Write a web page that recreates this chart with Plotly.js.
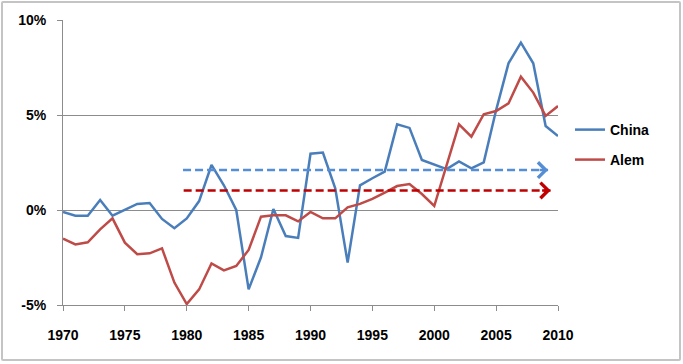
<!DOCTYPE html>
<html>
<head>
<meta charset="utf-8">
<script src="https://cdn.plot.ly/plotly-3.0.1.min.js"></script>
<style>
  html, body { margin: 0; padding: 0; background: #ffffff; }
  #chart { position: absolute; left: 0; top: 0; width: 683px; height: 364px; }
  #frame { position: absolute; left: 1px; top: 1px; width: 680px; height: 360px;
           border: 2px solid #C4C4C4; box-sizing: border-box; border-radius: 2px; pointer-events: none; }
</style>
</head>
<body>
<div id="chart"></div>
<div id="frame"></div>
<script>
// ---- data ----
const years = [1970,1971,1972,1973,1974,1975,1976,1977,1978,1979,
               1980,1981,1982,1983,1984,1985,1986,1987,1988,1989,
               1990,1991,1992,1993,1994,1995,1996,1997,1998,1999,
               2000,2001,2002,2003,2004,2005,2006,2007,2008,2009,2010];
const china = [-0.1,-0.3,-0.3,0.53,-0.3,0.0,0.32,0.37,-0.47,-0.96,
               -0.44,0.47,2.37,1.3,0.0,-4.18,-2.49,0.05,-1.37,-1.47,
               2.96,3.02,1.14,-2.77,1.3,1.67,2.02,4.51,4.32,2.63,
               2.37,2.15,2.56,2.19,2.51,5.26,7.72,8.81,7.72,4.42,3.89];
const alem  = [-1.51,-1.81,-1.70,-1.02,-0.44,-1.72,-2.33,-2.28,-2.02,-3.82,
               -4.95,-4.18,-2.81,-3.18,-2.95,-2.1,-0.35,-0.28,-0.28,-0.6,
               -0.1,-0.44,-0.44,0.14,0.32,0.58,0.91,1.26,1.37,0.84,
               0.21,2.4,4.51,3.86,5.04,5.21,5.61,7.02,6.18,4.95,5.47];
// trend arrows: [start year, end year], level (%)
const chinaArrowX = [1979.7, 2009.2];
const chinaArrowLevel = 2.1;
const alemArrowX = [1979.75, 2009.4];
const alemArrowLevel = 1.03;
const seriesNames = ["China", "Alem"];
const xTicks = [1970,1975,1980,1985,1990,1995,2000,2005,2010];
const yTicks = [-5,0,5,10];

// ---- styles ----
const blue = "#4A7EBB", red = "#BE4B48";
const blueDash = "#558ED5", redDash = "#C00000";
const tickFont = { family: "'Liberation Sans Narrow', 'Liberation Sans', Arial, sans-serif", size: 14, color: "#000", weight: "bold" };
const legFont = { family: "'Liberation Sans', Arial, sans-serif", size: 14, color: "#000", weight: "bold" };

const traces = [
  { x: years, y: china, type: "scatter", mode: "lines", name: seriesNames[0],
    line: { color: blue, width: 2.5 }, legend: "legend" },
  { x: years, y: alem, type: "scatter", mode: "lines", name: seriesNames[1],
    line: { color: red, width: 2.5 }, legend: "legend2" },
  { x: chinaArrowX, y: chinaArrowX.map(() => chinaArrowLevel), type: "scatter", mode: "lines",
    showlegend: false, hoverinfo: "skip", line: { color: blueDash, width: 2.5, dash: "8px,4px" } },
  { x: alemArrowX, y: alemArrowX.map(() => alemArrowLevel), type: "scatter", mode: "lines",
    showlegend: false, hoverinfo: "skip", line: { color: redDash, width: 2.5, dash: "8px,4px" } }
];

const annotations = [
  { x: chinaArrowX[1], y: chinaArrowLevel, ax: -10, ay: 0,
    xref: "x", yref: "y", text: "", showarrow: true,
    arrowhead: 4, arrowsize: 1.2, arrowwidth: 2.5, arrowcolor: blueDash },
  { x: alemArrowX[1], y: alemArrowLevel, ax: -10, ay: 0,
    xref: "x", yref: "y", text: "", showarrow: true,
    arrowhead: 4, arrowsize: 1.2, arrowwidth: 2.5, arrowcolor: redDash }
];

const layout = {
  width: 683, height: 364,
  margin: { l: 63, r: 125, t: 20, b: 59 },
  paper_bgcolor: "#ffffff", plot_bgcolor: "#ffffff",
  showlegend: true,
  xaxis: {
    range: [1970, 2010], tickvals: xTicks, ticktext: xTicks.map(String),
    showgrid: false, zeroline: false, showline: true, linecolor: "#8C8C8C", linewidth: 1,
    ticks: "outside", ticklen: 5, tickcolor: "#8C8C8C", tickfont: tickFont,
    ticklabelstandoff: 12
  },
  yaxis: {
    range: [-5, 10], tickvals: yTicks, ticktext: yTicks.map(v => v + "%"),
    showgrid: true, gridcolor: "#8C8C8C", gridwidth: 1, zeroline: false,
    showline: true, linecolor: "#8C8C8C", linewidth: 1,
    ticks: "outside", ticklen: 5, tickcolor: "#8C8C8C", tickfont: tickFont,
    ticklabelstandoff: 8
  },
  legend: { x: 1.0242, xanchor: "left", y: 0.614, yanchor: "middle",
            font: legFont, bgcolor: "rgba(0,0,0,0)", borderwidth: 0 },
  legend2: { x: 1.0242, xanchor: "left", y: 0.5088, yanchor: "middle",
             font: legFont, bgcolor: "rgba(0,0,0,0)", borderwidth: 0 },
  annotations: annotations
};

Plotly.newPlot("chart", traces, layout, { staticPlot: true, displayModeBar: false });
</script>
</body>
</html>
